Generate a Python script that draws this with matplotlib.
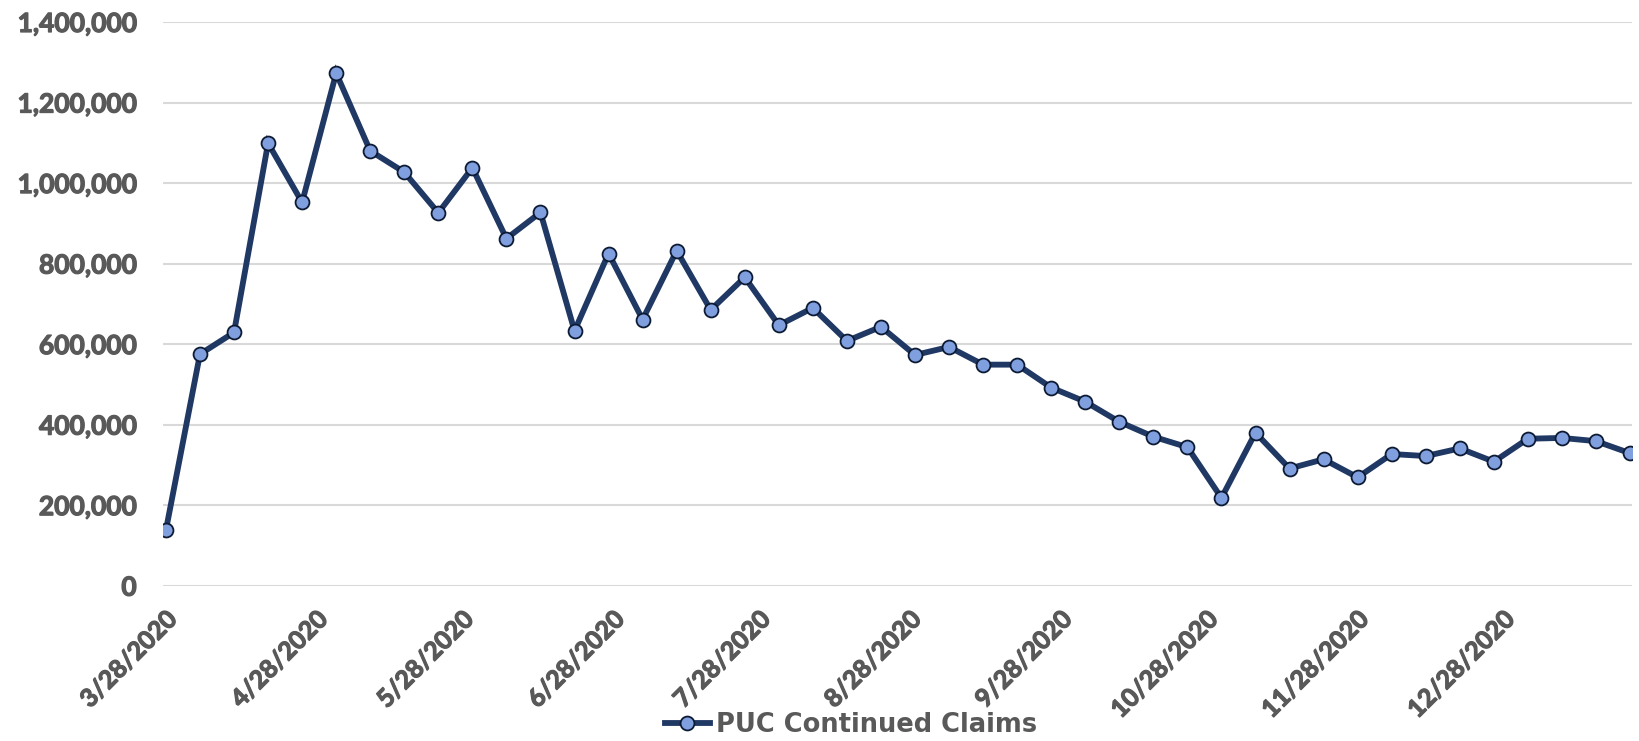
import datetime as dt
import matplotlib
matplotlib.use("Agg")
import matplotlib.pyplot as plt
import matplotlib.dates as mdates
import matplotlib.transforms as mtransforms
import matplotlib.patheffects as pe
from matplotlib.ticker import FuncFormatter, FixedLocator

# Weekly PUC continued claims, week ending dates starting 3/28/2020
start_date = dt.date(2020, 3, 28)
claims = [
    138000, 575000, 629000, 1099000, 952000, 1273000, 1080000, 1027000,
    926000, 1038000, 862000, 927000, 633000, 825000, 661000, 832000,
    685000, 766000, 647000, 690000, 608000, 643000, 573000, 593000,
    549000, 549000, 492000, 457000, 407000, 370000, 344000, 218000,
    380000, 291000, 314000, 269000, 327000, 322000, 341000, 308000,
    365000, 367000, 359000, 329000,
]
dates = [start_date + dt.timedelta(weeks=i) for i in range(len(claims))]

tick_dates = [dt.date(2020, m, 28) for m in range(3, 13)]
tick_labels = [f"{d.month}/{d.day}/{d.year}" for d in tick_dates]
y_ticks = [0, 200000, 400000, 600000, 800000, 1000000, 1200000, 1400000]
series_name = "PUC Continued Claims"

LINE = "#1f3864"
FACE = "#7f9fdf"
TEXT = "#595959"
GRID = "#d9d9d9"

plt.rcParams["font.family"] = ["Lato", "DejaVu Sans"]

W, H = 1639, 741
fig = plt.figure(figsize=(W / 100, H / 100), dpi=100)
left, right = 163 / W, 1632 / W
bottom, top = 1 - 585.7 / H, 1 - 22 / H
ax = fig.add_axes([left, bottom, right - left, top - bottom])

xnum = mdates.date2num(dates)
ax.plot(xnum, claims, color=LINE, lw=4.2, marker="o", markersize=10,
        markerfacecolor=FACE, markeredgecolor="#0d1a33", markeredgewidth=1.3,
        solid_joinstyle="miter", label=series_name, zorder=3)

ax.set_xlim(xnum[0] - 0.6, xnum[-1] + 0.4)
ax.set_ylim(0, 1400000)

ax.yaxis.set_major_locator(FixedLocator(y_ticks))
ax.yaxis.set_major_formatter(FuncFormatter(lambda v, p: f"{int(v):,}"))
ax.set_xticks(mdates.date2num(tick_dates))
ax.set_xticklabels(tick_labels, rotation=45, ha="right", va="top",
                   rotation_mode="anchor")

ax.tick_params(axis="y", length=0, pad=19, labelsize=19, labelcolor=TEXT)
ax.tick_params(axis="x", length=0, pad=15.5, labelsize=18, labelcolor=TEXT)

# heavier strokes for the tick text
heavy = [pe.withStroke(linewidth=0.9, foreground=TEXT)]
shift = mtransforms.ScaledTranslation(-1 / 100, 0, fig.dpi_scale_trans)
for lab in ax.get_xticklabels():
    lab.set_fontweight("bold")
    lab.set_path_effects(heavy)
    lab.set_transform(lab.get_transform() + shift)
for lab in ax.get_yticklabels():
    lab.set_fontweight("bold")
    lab.set_path_effects(heavy)

ax.grid(axis="y", color=GRID, lw=1.5)
ax.set_axisbelow(True)
for s in ax.spines.values():
    s.set_visible(False)

leg = fig.legend(loc="center", bbox_to_anchor=(851 / W, 1 - 725 / H),
                 frameon=False, handlelength=1.75, handletextpad=0.25,
                 prop={"family": ["DejaVu Sans"], "weight": "bold", "size": 18.5})
for t in leg.get_texts():
    t.set_color(TEXT)

fig.savefig("out.png", dpi=100)
